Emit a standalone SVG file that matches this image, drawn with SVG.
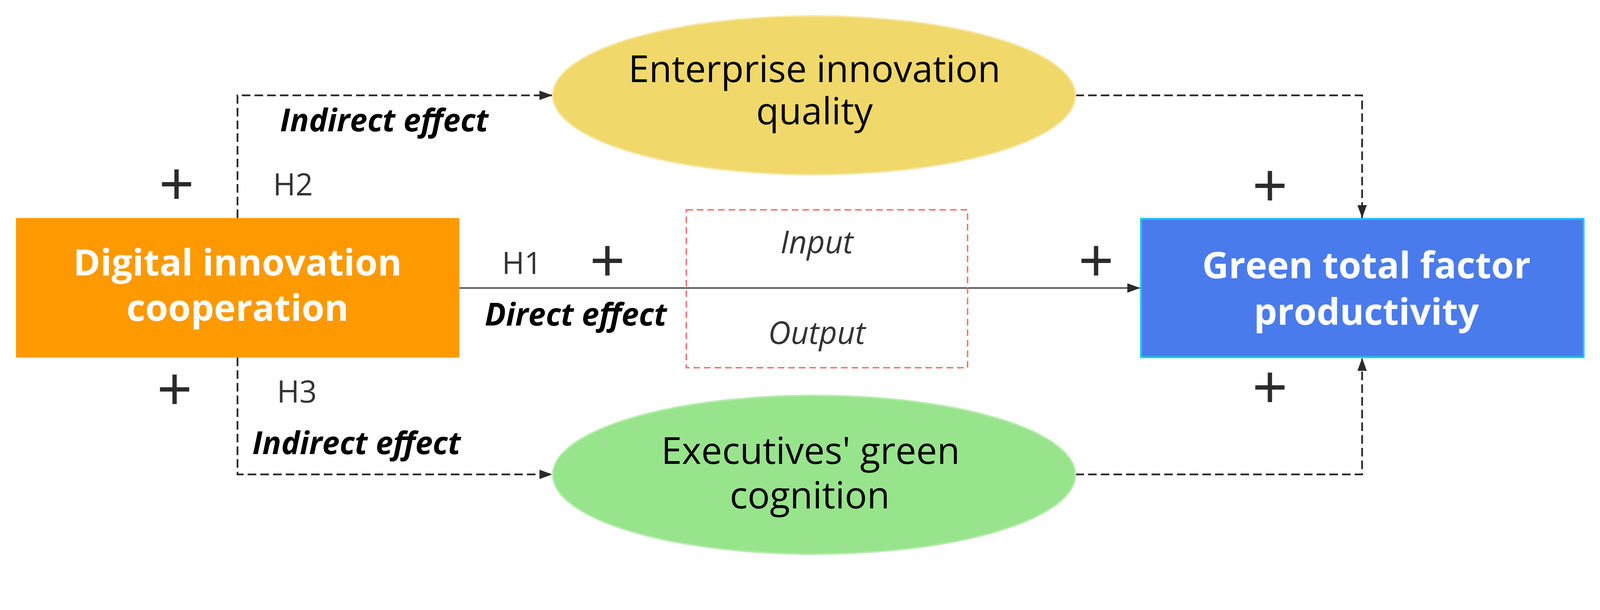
<svg xmlns="http://www.w3.org/2000/svg" width="4304" height="1561" viewBox="0 0 4304 1561">
<style>
.node-t{font-family:"Open Sans","Noto Sans",sans-serif;font-weight:700;font-size:94px;fill:#ffffff;text-anchor:middle}
.ell-t{font-family:"Open Sans","Noto Sans",sans-serif;font-size:95px;fill:#000000;text-anchor:middle}
.eff{font-family:"Open Sans","Noto Sans",sans-serif;font-weight:700;font-style:italic;font-size:80px;fill:#000000}
.hyp{font-family:"Open Sans","Noto Sans",sans-serif;font-size:78px;fill:#333333}
.io{font-family:"Open Sans","Noto Sans",sans-serif;font-style:italic;font-size:80px;fill:#333333;text-anchor:middle}
.plus{font-family:"Liberation Sans",Arial,sans-serif;font-size:154px;fill:#2b2b2b;text-anchor:middle}
.dash{fill:none;stroke:#2a2a2a;stroke-width:4.5;stroke-dasharray:22 10.5}
.solid{fill:none;stroke:#444444;stroke-width:3.5}
</style>
<defs>
<marker id="arr" markerUnits="userSpaceOnUse" markerWidth="36" markerHeight="26" refX="33" refY="12" orient="auto">
<path d="M0,0 L33,12 L0,24 Z" fill="#2a2a2a"/>
</marker>
</defs>
<rect width="4304" height="1561" fill="#ffffff"/>
<g id="connectors">
<path class="dash" d="M608,558 V244 H1414" marker-end="url(#arr)"/>
<path class="dash" d="M608,915 V1214 H1414" marker-end="url(#arr)"/>
<path class="dash" d="M2753,244 H3487 V558" marker-end="url(#arr)"/>
<path class="dash" d="M2753,1214 H3487 V916" marker-end="url(#arr)"/>
<path class="solid" d="M1176,737 H2919" marker-end="url(#arr)"/>
</g>
<g id="node-digital">
<rect x="41" y="558" width="1135" height="357" fill="#FF9900"/>
<text class="node-t" x="608" y="705">Digital innovation</text>
<text class="node-t" x="608" y="821">cooperation</text>
</g>
<g id="node-enterprise">
<ellipse cx="2084" cy="244" rx="669" ry="203" fill="#F0D86A" stroke="#F7E6A2" stroke-width="4"/>
<text class="ell-t" x="2085" y="210">Enterprise innovation</text>
<text class="ell-t" x="2085" y="318">quality</text>
</g>
<g id="node-executives">
<ellipse cx="2084" cy="1215" rx="669" ry="203" fill="#98E48C" stroke="#B5EDAD" stroke-width="4"/>
<text class="ell-t" x="2075" y="1187">Executives' green</text>
<text class="ell-t" x="2073" y="1301">cognition</text>
</g>
<g id="node-gtfp">
<rect x="2921" y="560" width="1133" height="354" fill="#4A7BEC" stroke="#22C4F5" stroke-width="5"/>
<text class="node-t" x="3498" y="712">Green total factor</text>
<text class="node-t" x="3498" y="831">productivity</text>
</g>
<g id="io-box">
<rect x="1757" y="537" width="720" height="404" fill="none" stroke="#F86A6A" stroke-width="3.5" stroke-dasharray="17 10"/>
<text class="io" x="2091" y="648">Input</text>
<text class="io" x="2091" y="880">Output</text>
</g>
<g id="labels">
<text class="eff" x="717" y="336">Indirect effect</text>
<text class="eff" x="646" y="1162">Indirect effect</text>
<text class="eff" x="1241" y="833">Direct effect</text>
<text class="hyp" x="699" y="500">H2</text>
<text class="hyp" x="709" y="1030">H3</text>
<text class="hyp" x="1285" y="701">H1</text>
<text class="plus" x="452" y="523">+</text>
<text class="plus" x="447" y="1048">+</text>
<text class="plus" x="1555" y="719">+</text>
<text class="plus" x="2806" y="719">+</text>
<text class="plus" x="3251" y="527">+</text>
<text class="plus" x="3251" y="1043">+</text>
</g>
</svg>
